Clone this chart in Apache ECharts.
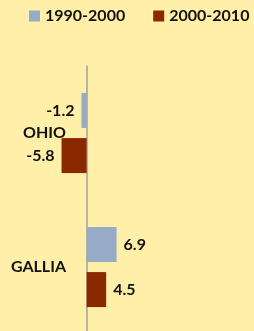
<!DOCTYPE html>
<html lang="en">
<head>
    <meta charset="UTF-8">
    <title>eCharts</title>
    <script src="https://cdn.jsdelivr.net/npm/echarts@6.0.0/dist/echarts.min.js"></script>
    <style>
        body { margin: 0; background: #FFEFA8; }
    </style>
</head>
<body>
    <div id="main" style="width: 254px;height:331px;"></div>
    <script type="text/javascript">
        // data
        const categories = ['GALLIA', 'OHIO'];
        const seriesNames = ['1990-2000', '2000-2010'];
        const change1990 = [6.9, -1.2];
        const change2000 = [4.5, -5.8];

        const font = 'Lato, "Open Sans", sans-serif';

        function barLabel() {
            return {
                show: true,
                distance: 7,
                color: '#111',
                fontFamily: font,
                fontWeight: 'bold',
                fontSize: 16,
                position: 'right'
            };
        }

        function makeData(values) {
            return values.map(v => ({
                value: v,
                label: { position: v < 0 ? 'left' : 'right' }
            }));
        }

        let options = {
            backgroundColor: '#FFEFA8',
            legend: {
                top: 8,
                left: 29,
                width: 250,
                padding: 0,
                itemWidth: 11,
                itemHeight: 11,
                itemGap: 28,
                icon: 'rect',
                textStyle: { fontFamily: font, fontWeight: 'bold', fontSize: 16, color: '#111' },
                data: seriesNames
            },
            grid: { left: 0, width: 260, top: 66, height: 268, outerBoundsMode: 'none', containLabel: false },
            xAxis: {
                type: 'value',
                min: -20,
                max: 40,
                axisLabel: { show: false },
                splitLine: { show: false },
                axisLine: { show: false },
                axisTick: { show: false }
            },
            yAxis: [{
                // zero line
                type: 'category',
                data: categories,
                axisLine: { onZero: true, lineStyle: { color: '#A0A0A0', width: 1.5 } },
                axisTick: { show: false },
                axisLabel: { show: false }
            }, {
                // category names, right-aligned left of the zero line
                type: 'category',
                data: categories,
                position: 'left',
                axisLine: { show: false, onZero: false },
                axisTick: { show: false },
                axisLabel: {
                    margin: -66,
                    align: 'right',
                    interval: 0,
                    color: '#111',
                    fontFamily: font,
                    fontWeight: 'bold',
                    fontSize: 16
                }
            }],
            series: [{
                name: seriesNames[0],
                type: 'bar',
                data: makeData(change1990),
                itemStyle: { color: '#97AAC6' },
                barWidth: 35,
                barGap: '29%',
                label: barLabel()
            }, {
                name: seriesNames[1],
                type: 'bar',
                data: makeData(change2000),
                itemStyle: { color: '#8A2900' },
                barWidth: 35,
                label: barLabel()
            }]
        };

        let myChart = echarts.init(document.getElementById('main'));
        myChart.setOption(options);
    </script>
</body>
</html>
